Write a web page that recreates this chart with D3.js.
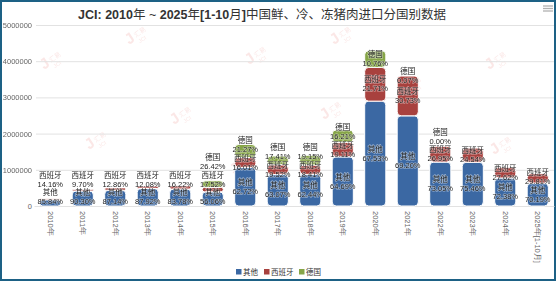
<!DOCTYPE html>
<html>
<head>
<meta charset="utf-8">
<script src="https://cdn.jsdelivr.net/npm/d3@7"></script>
<style>
  html, body { margin: 0; padding: 0; background: #fff; }
  svg { display: block; font-family: "Liberation Sans", Arial, "Noto Sans CJK SC", sans-serif; }
</style>
</head>
<body>
<div id="chart"></div>
<script>
const years = ['2010年', '2011年', '2012年', '2013年', '2014年', '2015年', '2016年', '2017年',
  '2018年', '2019年', '2020年', '2021年', '2022年', '2023年', '2024年', '2025年[1-10月]'];
const seriesNames = ['其他', '西班牙', '德国'];
const seriesColors = ['#3b68a3', '#a8413e', '#86a547'];

// 吨
const otherValues = [171680, 415380, 435700, 483560, 469168, 392420, 1066240, 870366,
  874160, 1358417, 2897037, 2491200, 1212630, 1207360, 774466, 631710];
const spainValues = [28320, 44620, 64300, 66440, 90832, 122640, 272170, 269376,
  257740, 401237, 931359, 1106280, 447370, 392640, 295534, 268290];
const germanyValues = [null, null, null, null, null, 184940, 361590, 240258,
  268100, 340346, 461604, 2520, 20, null, null, null];

const yTicks = [0, 1000000, 2000000, 3000000, 4000000, 5000000];

const width = 556, height = 281;
const margin = {top: 25, right: 2, bottom: 75, left: 34};
const plotW = width - margin.left - margin.right;
const plotH = height - margin.top - margin.bottom;

const svg = d3.select('#chart').append('svg')
  .attr('width', width)
  .attr('height', height);

// 外框
svg.append('rect')
  .attr('x', 1).attr('y', 1)
  .attr('width', width - 2).attr('height', height - 2)
  .attr('fill', '#fff')
  .attr('stroke', '#1d6185')
  .attr('stroke-width', 2);

// 标题
const title = svg.append('text')
  .attr('x', 262).attr('y', 19)
  .attr('text-anchor', 'middle')
  .attr('fill', '#333')
  .style('font-size', '12.5px');
[['JCI: 2010', 700], ['年', 400], [' ~ ', 400], ['2025', 700], ['年', 400], ['[1-10', 700], ['月', 400],
  [']', 700], ['中国鲜、冷、冻猪肉进口分国别数据', 400]].forEach(p => {
  title.append('tspan').attr('font-weight', p[1]).text(p[0]);
});

// 菜单图标
[6, 8.5, 11].forEach(yy => {
  svg.append('line')
    .attr('x1', 543).attr('x2', 553).attr('y1', yy).attr('y2', yy)
    .attr('stroke', '#b0b0b0').attr('stroke-width', 1.3);
});

const g = svg.append('g')
  .attr('transform', `translate(${margin.left},${margin.top})`);

const x = d3.scaleBand()
  .domain(years)
  .range([0, plotW])
  .paddingInner(0.35)
  .paddingOuter(0.175);

const y = d3.scaleLinear()
  .domain([0, 5000000])
  .range([plotH, 0]);

// 水印
const wm = g.append('g').attr('opacity', 0.14);
[[10, 45], [95, 20], [215, 40], [300, 20], [370, 70], [455, 45],
  [55, 125], [140, 100], [290, 95], [460, 130], [200, 150]].forEach(p => {
  const w = wm.append('g').attr('transform', `translate(${p[0]},${p[1]}) rotate(-35)`);
  w.append('text').attr('x', 0).attr('y', 0)
    .attr('fill', '#e0504a').style('font-size', '15px').attr('font-weight', 700).text('J');
  w.append('text').attr('x', 10).attr('y', -2)
    .attr('fill', '#e0504a').style('font-size', '6.5px').text('汇易');
  w.append('text').attr('x', 10).attr('y', 5)
    .attr('fill', '#e0504a').style('font-size', '5.5px').text('JCI');
});

// 网格与Y轴
const yAxis = d3.axisLeft(y)
  .tickValues(yTicks)
  .tickSize(-plotW)
  .tickFormat(d3.format('d'));

g.append('g')
  .call(yAxis)
  .call(a => a.select('.domain').remove())
  .call(a => a.selectAll('.tick line').attr('stroke', '#e2e2e2').attr('x1', 2))
  .call(a => a.selectAll('.tick text')
    .attr('x', -2)
    .attr('fill', '#666')
    .style('font-size', '7.5px')
    .style('font-family', '"Liberation Sans", Arial, sans-serif'));

// X轴
const xAxis = d3.axisBottom(x).tickSize(0);
g.append('g')
  .attr('transform', `translate(0,${plotH})`)
  .call(xAxis)
  .call(a => a.select('.domain').attr('stroke', '#e2e2e2'))
  .call(a => a.selectAll('.tick text')
    .attr('transform', 'rotate(90)')
    .attr('x', 5).attr('y', 0).attr('dy', '0.35em')
    .attr('text-anchor', 'start')
    .attr('fill', '#666')
    .style('font-size', '7.5px'));

// 堆叠
const table = years.map((yr, i) => ({
  year: yr,
  '其他': otherValues[i],
  '西班牙': spainValues[i],
  '德国': germanyValues[i]
}));

const stack = d3.stack()
  .keys(seriesNames)
  .value((d, k) => d[k] == null ? 0 : d[k]);
const stacked = stack(table);

const bw = x.bandwidth();

stacked.forEach((layer, si) => {
  g.append('g')
    .selectAll('rect')
    .data(layer.filter(d => d.data[layer.key] != null))
    .enter()
    .append('rect')
    .attr('x', d => x(d.data.year))
    .attr('y', d => y(d[1]))
    .attr('width', bw)
    .attr('height', d => Math.max(0, y(d[0]) - y(d[1])))
    .attr('rx', d => Math.min(4, (y(d[0]) - y(d[1])) / 2))
    .attr('fill', seriesColors[si])
    .attr('stroke', '#fff')
    .attr('stroke-width', 1);
});

// 数据标签
const labelGap = 17.5;
const labelG = g.append('g')
  .style('font-size', '7.5px')
  .attr('text-anchor', 'middle');

table.forEach((row, i) => {
  const total = seriesNames.reduce((s, k) => s + (row[k] || 0), 0);
  let prev = Infinity;
  seriesNames.forEach((k, si) => {
    const v = row[k];
    if (v == null) return;
    const d = stacked[si][i];
    let c = (y(d[0]) + y(d[1])) / 2;
    c = Math.min(c, plotH - 9, prev - labelGap);
    prev = c;
    const t = labelG.append('text')
      .attr('x', x(row.year) + bw / 2)
      .attr('y', c)
      .attr('fill', '#1c1c1c')
      .attr('stroke', '#fff')
      .attr('stroke-width', 1.2)
      .attr('stroke-opacity', 0.5)
      .attr('paint-order', 'stroke');
    t.append('tspan').attr('x', x(row.year) + bw / 2).attr('dy', '-0.25em').text(k);
    t.append('tspan').attr('x', x(row.year) + bw / 2).attr('dy', '1.2em')
      .text((v / total * 100).toFixed(2) + '%');
  });
});

// 图例
const legend = svg.append('g')
  .attr('transform', 'translate(236,272)')
  .style('font-size', '7.5px');
const legendX = [0, 28, 63];
seriesNames.forEach((n, i) => {
  legend.append('rect')
    .attr('x', legendX[i]).attr('y', -3)
    .attr('width', 5.5).attr('height', 5.5)
    .attr('fill', seriesColors[i]);
  legend.append('text')
    .attr('x', legendX[i] + 7).attr('y', 0)
    .attr('dy', '0.35em')
    .attr('fill', '#333')
    .text(n);
});
</script>
</body>
</html>
